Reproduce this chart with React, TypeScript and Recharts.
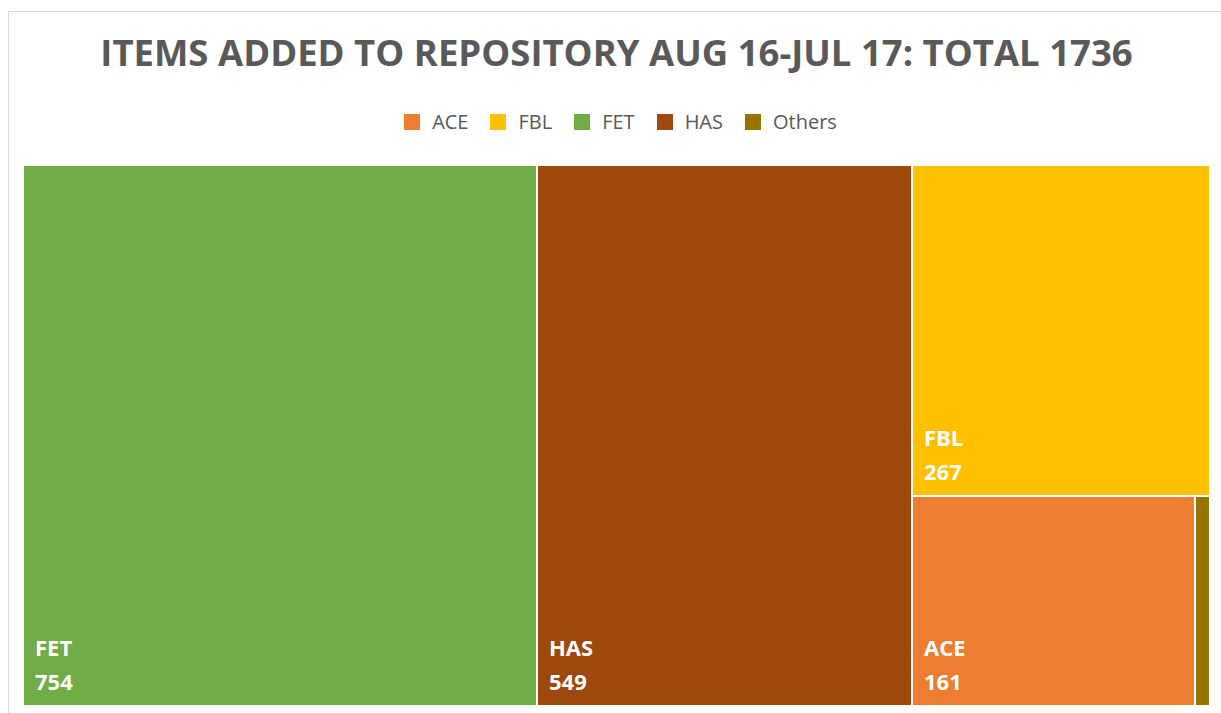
import { Treemap } from "recharts";

const names = ["FET", "HAS", "FBL", "ACE", "Others"];
const values = [754, 549, 267, 161, 9];
const colors = ["#70AD47", "#9E480E", "#FFC000", "#ED7D31", "#997300"];
const legendNames = ["ACE", "FBL", "FET", "HAS", "Others"];

const data = names.map((name, i) => ({ name, size: values[i], color: colors[i] }));

const FONT = "'Open Sans', sans-serif";

function Cell(props: any) {
  const { x, y, width, height, depth, name, value, color } = props;
  if (depth !== 1) return null;
  return (
    <g>
      <rect x={x} y={y} width={width} height={height} fill={color} stroke="#fff" strokeWidth={2} />
      {width > 60 && (
        <text x={x + 12} y={y + height - 50} fill="#fff" fontFamily={FONT} fontWeight={700} fontSize={22}>
          {name}
        </text>
      )}
      {width > 60 && (
        <text x={x + 12} y={y + height - 16} fill="#fff" fontFamily={FONT} fontWeight={700} fontSize={22}>
          {value}
        </text>
      )}
    </g>
  );
}

export default function App() {
  return (
    <div style={{ position: "absolute", left: 0, top: 0, width: 1221, height: 713, overflow: "hidden", background: "#fff", fontFamily: FONT }}>
      <div style={{ position: "absolute", left: 8, top: 11, width: 1230, height: 720, border: "1px solid #d9d9d9" }} />
      <div style={{ position: "absolute", left: 0, top: 27, width: 1233, textAlign: "center", fontSize: 36.5, fontWeight: 700, color: "#595959", lineHeight: "50px" }}>
        ITEMS ADDED TO REPOSITORY AUG 16-JUL 17: TOTAL 1736
      </div>
      <div style={{ position: "absolute", left: 0, top: 108, width: 1241, display: "flex", justifyContent: "center", fontSize: 20, color: "#595959", lineHeight: "28px" }}>
        {legendNames.map((n) => (
          <div key={n} style={{ display: "flex", alignItems: "center", margin: "0 11px" }}>
            <span style={{ display: "inline-block", width: 16, height: 16, background: colors[names.indexOf(n)], marginRight: 12 }} />
            <span>{n}</span>
          </div>
        ))}
      </div>
      <div style={{ position: "absolute", left: 23, top: 165 }}>
        <Treemap
          width={1187}
          height={541}
          data={data}
          dataKey="size"
          nameKey="name"
          aspectRatio={1}
          isAnimationActive={false}
          content={<Cell />}
        />
      </div>
    </div>
  );
}
